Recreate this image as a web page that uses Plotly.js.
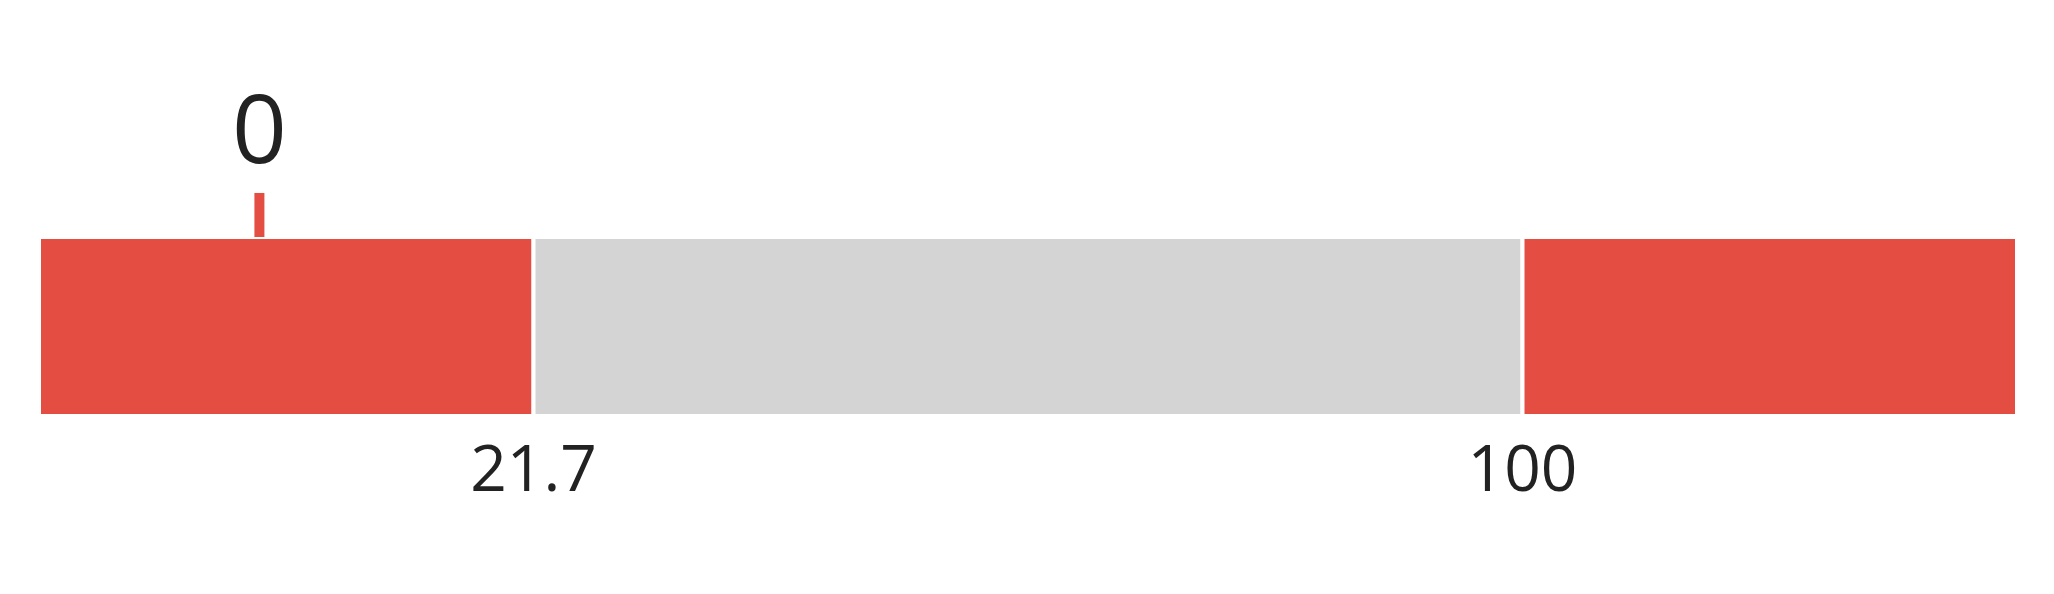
<!DOCTYPE html>
<html>
<head>
<meta charset="utf-8">
<script src="https://cdn.plot.ly/plotly-3.0.1.min.js"></script>
<style>
  body { margin: 0; background: #fff; }
  #div1 { width: 2054px; height: 594px; }
</style>
</head>
<body>
<div id="div1"></div>
<script>
// band limits of the gauge, and the value shown on it
var band_start = [-17.45, 21.7, 100];
var band_end = [21.7, 100, 139.15];
var band_color = ['#e34d42', '#d4d4d4', '#e34d42'];
var tick_vals = [21.7, 100];
var tick_text = ['21.7', '100'];
var value = 0;

var widths = [];
for (var i = 0; i < band_start.length; i++) {
  widths.push(band_end[i] - band_start[i]);
}

var bands = {
  x: widths,
  base: band_start,
  y: [0, 0, 0],
  type: 'bar',
  orientation: 'h',
  width: 1,
  marker: {color: band_color, line: {color: '#ffffff', width: 4}},
  hoverinfo: 'skip'
};

var data1 = [bands];

var layout1 = {
  width: 2054,
  height: 594,
  margin: {l: 39, r: 37, t: 237, b: 178},
  paper_bgcolor: '#ffffff',
  plot_bgcolor: '#ffffff',
  showlegend: false,
  font: {family: '"Open Sans", sans-serif', color: '#222222'},
  xaxis: {range: [band_start[0], band_end[band_end.length - 1]],
          tickvals: tick_vals,
          ticktext: tick_text,
          tickfont: {size: 64, color: '#222222'},
          ticklabelstandoff: 10,
          showgrid: false,
          zeroline: false,
          showline: false,
          ticks: '',
          fixedrange: true},
  yaxis: {range: [-0.5, 0.5],
          visible: false,
          fixedrange: true},
  shapes: [{type: 'line', xref: 'x', yref: 'paper',
            x0: value, x1: value, y0: 1, y1: 1.246,
            line: {color: '#e34d42', width: 10}}],
  annotations: [{xref: 'x', yref: 'paper', x: value, y: 1.623,
                 text: String(value), showarrow: false,
                 xanchor: 'center', yanchor: 'middle',
                 font: {size: 96, color: '#222222'}}]
};

Plotly.newPlot('div1', data1, layout1, {displayModeBar: false, staticPlot: true});
</script>
</body>
</html>
